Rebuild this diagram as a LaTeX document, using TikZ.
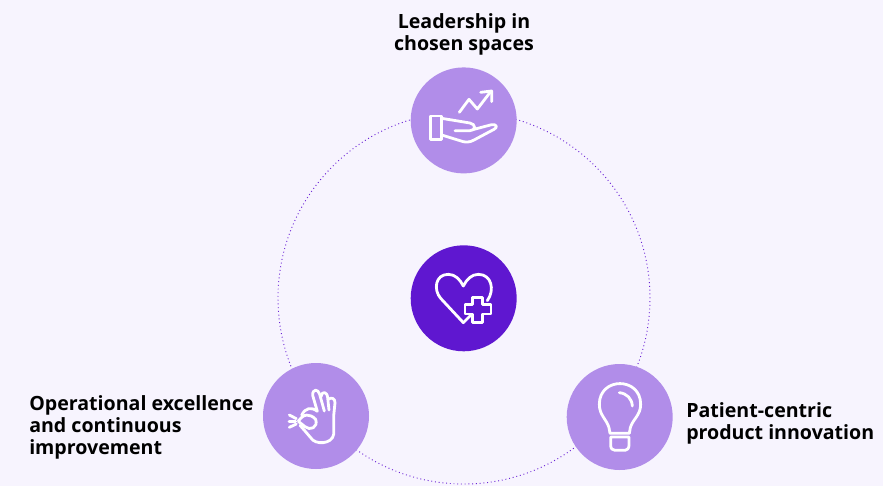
\documentclass[tikz,border=0pt]{standalone}
\usepackage{fontspec}
\setmainfont{Open Sans}
\definecolor{pagebg}{HTML}{F7F4FE}
\definecolor{lilac}{HTML}{B18DE9}
\definecolor{violet}{HTML}{5F17D0}
\definecolor{ringdot}{HTML}{6A22D6}
\tikzset{
  disc/.style={circle,fill=#1,minimum size=79.5pt,inner sep=0pt},
  label/.style={align=#1,font=\bfseries\fontsize{14.7}{16.5}\selectfont,text=black,inner sep=0pt},
  icon/.style={draw=white,line width=2.1pt,line join=round,line cap=round}
}
\begin{document}
\begin{tikzpicture}[x=0.75pt,y=-0.75pt]
\useasboundingbox[fill=pagebg] (0,0) rectangle (883,486);

\node[circle,draw=ringdot,line width=0.7pt,dash pattern=on 0.7pt off 2.1pt,minimum size=279pt,inner sep=0pt] (ring) at (464,298) {};

\node[disc=lilac] (top) at (463.7,120.4) {};
\node[disc=violet] (centre) at (463.7,298.3) {};
\node[disc=lilac] (left) at (316,416) {};
\node[disc=lilac] (right) at (619.7,417) {};

\node[label=center] (toptext) at (464,34) {Leadership in\\chosen spaces};
\node[label=left,anchor=west] (lefttext) at (29,427.5) {Operational excellence\\and continuous\\improvement};
\node[label=left,anchor=west] (righttext) at (686,423.5) {Patient-centric\\product innovation};

% hand
\begin{scope}[shift={(400,60)},scale=1/3]
\draw[icon] (92,168) rectangle (125,238);
\draw[icon] (125,175) -- (210,189) .. controls (228,192) and (228,212) .. (210,212) -- (165,212);
\draw[icon] (222,208) -- (275,194) .. controls (290,192) and (294,202) .. (282,208) -- (222,240) .. controls (208,248) and (195,248) .. (180,242) -- (125,225);
\draw[icon] (178,157) -- (207,118) -- (232,147) -- (272,95);
\draw[icon] (242,97) -- (275,93) -- (275,125);
\end{scope}

% heart and cross
\begin{scope}[shift={(400,240)},scale=1/3]
\draw[icon] (210,228) -- (190,248) -- (122,175) .. controls (100,150) and (105,103) .. (145,103) .. controls (165,103) and (180,118) .. (190,138) .. controls (200,118) and (215,103) .. (235,103) .. controls (275,103) and (285,150) .. (262,182);
\draw[icon] (218,172) -- (248,172) -- (248,193) -- (273,193) -- (273,222) -- (248,222) -- (248,247) -- (218,247) -- (218,222) -- (195,222) -- (195,193) -- (218,193) -- cycle;
\end{scope}

% ok hand
\begin{scope}[shift={(255,356)},scale=1/3]
\draw[icon] (103,177) -- (124,188);
\draw[icon] (102,196) -- (122,196);
\draw[icon] (103,214) -- (124,204);
\draw[icon] (130,196) .. controls (145,172) and (165,172) .. (182,190) .. controls (190,215) and (165,225) .. (150,212) -- cycle;
\draw[icon] (140,178) .. controls (150,155) and (170,152) .. (187,166) -- (173,118) .. controls (172,98) and (190,98) .. (194,115) -- (208,165);
\draw[icon] (198,122) .. controls (200,105) and (216,105) .. (218,125) -- (222,162);
\draw[icon] (220,130) .. controls (230,122) and (240,128) .. (240,140) -- (236,180) -- (236,235) .. controls (232,265) and (180,268) .. (167,245) -- (150,225) -- (135,208);
\end{scope}

% bulb
\begin{scope}[shift={(560,356)},scale=1/3]
\draw[icon] (150,232) -- (147,215) .. controls (140,190) and (118,178) .. (118,145) .. controls (118,62) and (242,62) .. (242,145) .. controls (242,178) and (218,190) .. (211,215) -- (208,232) -- cycle;
\draw[icon] (152,243) -- (207,243) -- (207,268) .. controls (207,278) and (200,283) .. (195,283) -- (165,283) .. controls (158,283) and (152,278) .. (152,268) -- cycle;
\draw[icon] (178,110) .. controls (200,112) and (216,128) .. (217,150);
\end{scope}
\end{tikzpicture}
\end{document}
